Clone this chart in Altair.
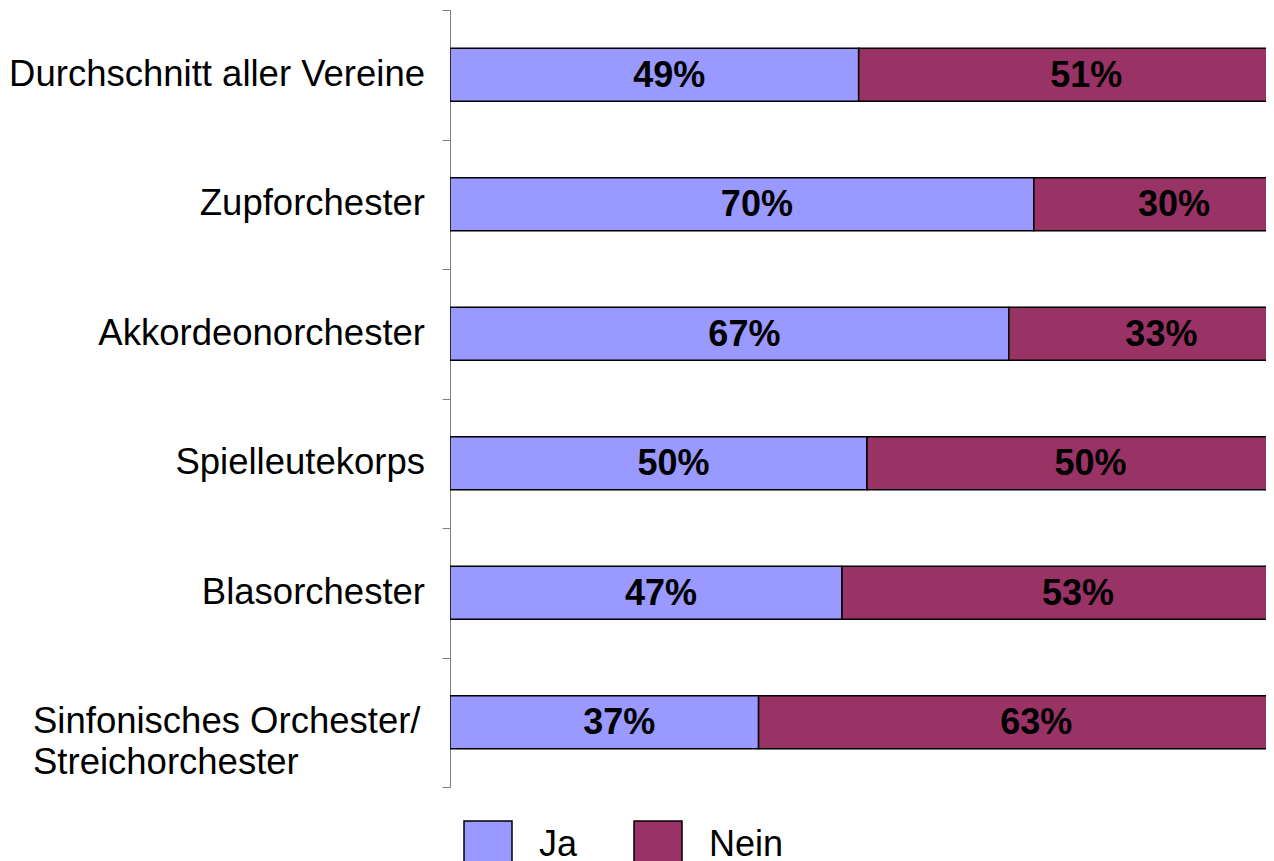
import altair as alt
import pandas as pd

categories = [
    "Durchschnitt aller Vereine",
    "Zupforchester",
    "Akkordeonorchester",
    "Spielleutekorps",
    "Blasorchester",
    "Sinfonisches Orchester/|Streichorchester",
]
ja = [49, 70, 67, 50, 47, 37]
nein = [51, 30, 33, 50, 53, 63]
answers = ["Ja", "Nein"]
colors = ["#9999FF", "#993366"]

rows = []
for c, j, n in zip(categories, ja, nein):
    rows.append({"category": c, "answer": "Ja", "value": j, "order": 0})
    rows.append({"category": c, "answer": "Nein", "value": n, "order": 1})
df = pd.DataFrame(rows)

FONT = "Liberation Sans"

base = alt.Chart(df).transform_stack(
    stack="value", groupby=["category"], as_=["x0", "x1"],
    sort=[alt.SortField("order")]
).transform_calculate(
    mid="(datum.x0 + datum.x1) / 2",
    label="datum.value + '%'"
)

y = alt.Y(
    "category:N", sort=categories,
    scale=alt.Scale(paddingInner=0, paddingOuter=0),
    axis=alt.Axis(
        title=None, labels=False, tickSize=8,
        tickColor="#808080", domainColor="#808080", tickBand="extent",
        grid=False,
    ),
)
# visible part of the 0-100% scale (the chart is cropped at the right edge)
xscale = alt.Scale(domain=[0, 97.84], nice=False, zero=True)

bars = base.mark_bar(size=53, stroke="black", strokeWidth=1.5, clip=True).encode(
    x=alt.X("x0:Q", scale=xscale, axis=None),
    x2="x1:Q",
    y=y,
    color=alt.Color(
        "answer:N", scale=alt.Scale(domain=answers, range=colors),
        legend=alt.Legend(
            title=None, orient="none", legendX=13, legendY=810,
            direction="horizontal", symbolType="square", symbolSize=2304,
            symbolStrokeColor="black", symbolStrokeWidth=1.5,
            labelFontSize=36, labelFont=FONT, labelColor="black",
            labelOffset=26, columnPadding=53, padding=0, symbolOpacity=1,
        ),
    ),
)

text = base.mark_text(
    font=FONT, fontSize=36, fontWeight="bold", color="black", dx=15, dy=1
).encode(
    x=alt.X("mid:Q", scale=xscale, axis=None),
    y=y,
    text="label:N",
)

# category labels left of the axis
cat_base = alt.Chart(df).transform_filter(alt.datum.answer == "Ja")
single = "indexof(datum.category, '|') < 0"
cat_right = cat_base.transform_filter(single).mark_text(
    font=FONT, fontSize=36.5, color="black", align="right", baseline="middle"
).encode(x=alt.value(-25), y=y, text="category:N")
cat_left = cat_base.transform_filter("!(" + single + ")").mark_text(
    font=FONT, fontSize=36.5, color="black", align="left", baseline="middle",
    lineBreak="|", lineHeight=41,
).encode(x=alt.value(-417), y=y, text="category:N")

chart = alt.layer(bars, text, cat_right, cat_left).properties(
    width=816, height=777,
    padding={"left": 442, "top": 2, "right": 0, "bottom": 74},
    autosize=alt.AutoSizeParams(type="none"),
).configure_view(stroke=None)

chart.save("out.html", embed_options={"renderer": "svg", "actions": False})
